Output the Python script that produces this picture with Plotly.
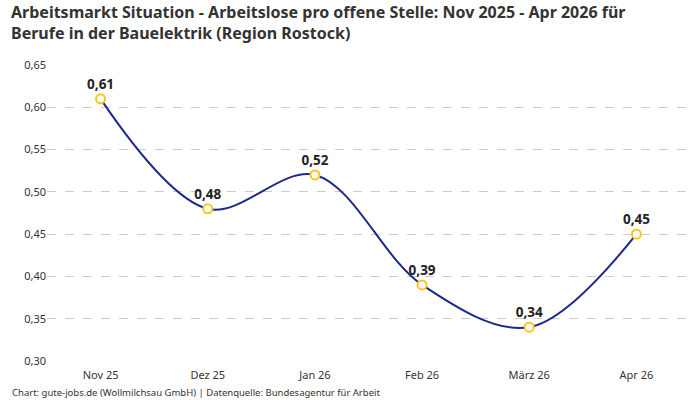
import plotly.graph_objects as go

months = ["Nov 25", "Dez 25", "Jan 26", "Feb 26", "März 26", "Apr 26"]
values = [0.61, 0.48, 0.52, 0.39, 0.34, 0.45]
labels = ["0,61", "0,48", "0,52", "0,39", "0,34", "0,45"]

fig = go.Figure()
fig.add_trace(go.Scatter(
    x=months, y=values, mode="lines+markers+text",
    line=dict(color="#1c2a8a", width=2, shape="spline", smoothing=1),
    marker=dict(size=9, color="white", line=dict(color="#fcc419", width=2)),
    text=labels, textposition="top center",
    textfont=dict(family="Noto Sans", size=13.5, color="#222222", weight="bold"),
    hoverinfo="skip", cliponaxis=False,
))

fig.update_layout(
    width=700, height=400,
    margin=dict(l=47, r=10, t=65, b=39),
    paper_bgcolor="white", plot_bgcolor="white",
    separators=",.",
    showlegend=False,
    font=dict(family="Noto Sans", color="#333333"),
    xaxis=dict(
        type="category", range=[-0.5, 5.5], showgrid=False, zeroline=False,
        showline=False, ticks="", tickfont=dict(size=11, color="#333333"),
        ticklabelstandoff=6,
    ),
    yaxis=dict(
        range=[0.30, 0.65], dtick=0.05, tickformat=".2f",
        showgrid=True, gridcolor="#cccccc", griddash="dash", gridwidth=1,
        zeroline=False, showline=False, ticks="",
        tickfont=dict(size=11, color="#333333"),
    ),
    annotations=[
        dict(
            text="<b>Arbeitsmarkt Situation - Arbeitslose pro offene Stelle: Nov 2025 - Apr 2026 für<br>Berufe in der Bauelektrik (Region Rostock)</b>",
            xref="paper", yref="paper", x=-0.059, y=1.224, xanchor="left", yanchor="top",
            align="left", showarrow=False,
            font=dict(family="Noto Sans", size=16, color="#333333"),
        ),
        dict(
            text="Chart: gute-jobs.de (Wollmilchsau GmbH) | Datenquelle: Bundesagentur für Arbeit",
            xref="paper", yref="paper", x=-0.058, y=-0.108, xanchor="left", yanchor="middle",
            showarrow=False, font=dict(family="Noto Sans", size=9.5, color="#333333"),
        ),
    ],
)

fig.write_html("out.html")
